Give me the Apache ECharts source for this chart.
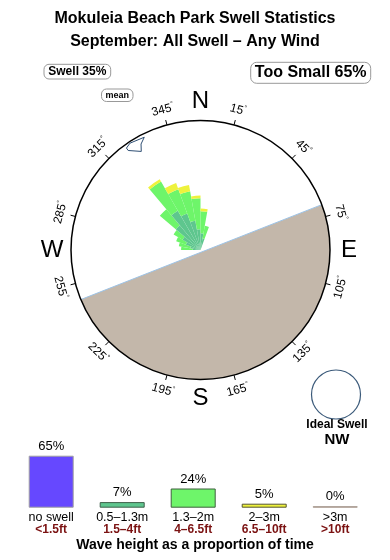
<!DOCTYPE html>
<html><head><meta charset="utf-8">
<script src="https://cdn.jsdelivr.net/npm/echarts@6/dist/echarts.min.js"></script>
<style>html,body{margin:0;padding:0;background:#fff}#c{width:390px;height:560px}</style>
</head><body><div id="c"></div>
<script>
// ---- data ----
const titleLines = ['Mokuleia Beach Park Swell Statistics', 'September: All Swell \u2013 Any Wind'];
const swellPct = 35;
const tooSmallPct = 65;
// rose bins (direction centre, degrees) and stacked lengths (% of rose radius)
const roseDirs   = [275, 285, 295, 305, 315, 325, 335, 345, 355, 5, 15];
const roseSmall  = [6, 8, 12, 16, 25, 35, 30, 23, 16, 13, 9];     // 0.5-1.3m
const roseMedium = [9, 9, 8, 8, 16, 26, 20, 23, 24, 17, 10];      // 1.3-2m
const roseLarge  = [0, 0, 0, 0, 0, 2, 5, 5, 2, 2, 0];             // 2-3m
const roseHuge   = [0, 0, 0, 0, 0, 0, 0, 0, 0, 0, 0];             // >3m
const binWidth = 10;
const meanDir = 329;
const landFrom = 69.5, landTo = 247.5;
const tickAngles = [15, 45, 75, 105, 135, 165, 195, 225, 255, 285, 315, 345];
const compassLabels = ['N', 'E', 'S', 'W'];
const compassAngles = [0, 90, 180, 270];
const sizeNames = ['no swell', '0.5\u20131.3m', '1.3\u20132m', '2\u20133m', '>3m'];
const sizeFeet  = ['<1.5ft', '1.5\u20134ft', '4\u20136.5ft', '6.5\u201310ft', '>10ft'];
const sizePct   = [65, 7, 24, 5, 0];
const idealSwell = 'NW';

// ---- styles ----
const FONT = "'Liberation Sans', Arial, Helvetica, sans-serif";
const sizeColors = ['#6648ff', '#5ec68e', '#6ef56a', '#eef23c', '#c2b2a6'];
const sizeBorders = ['#a0a0a0', '#3f5f4a', '#3f5f3f', '#555530', '#a89a90'];
const landColor = '#c3b7aa';
const R = 100;               // radius axis max
const CX = 200.5, CY = 250, RPX = 129.5;
const PXU = R / RPX;         // units per pixel

const chart = echarts.init(document.getElementById('c'), null, {renderer: 'canvas'});

const degRich = {
  v: {fontSize: 12, fontFamily: FONT, color: '#000'},
  d: {fontSize: 7, fontFamily: FONT, color: '#000', padding: [0, 0, 7, 0]}
};

// rose data table: [total, direction, small, medium, large, huge]
const roseTable = roseDirs.map((d, k) => [
  roseSmall[k] + roseMedium[k] + roseLarge[k] + roseHuge[k], d,
  roseSmall[k], roseMedium[k], roseLarge[k], roseHuge[k]
]);
const roseColors = [sizeColors[1], sizeColors[2], sizeColors[3], sizeColors[4]];

const option = {
  animation: false,
  backgroundColor: '#fff',
  polar: {center: [CX, CY], radius: RPX},
  angleAxis: {type: 'value', min: 0, max: 360, startAngle: 90, clockwise: true,
    axisLine: {show: false}, axisTick: {show: false}, axisLabel: {show: false}, splitLine: {show: false}},
  radiusAxis: {type: 'value', min: 0, max: R, axisLine: {show: false}, axisTick: {show: false},
    axisLabel: {show: false}, splitLine: {show: false}},
  grid: {left: 15.7, width: 355, top: 455.7, height: 52, containLabel: false},
  xAxis: {
    type: 'category', data: sizeNames,
    axisLine: {show: false}, axisTick: {show: false},
    axisLabel: {
      margin: 4, interval: 0,
      formatter: (v, i) => `{a|${sizeNames[i]}}\n{b|${sizeFeet[i]}}`,
      rich: {
        a: {fontSize: 12.5, fontFamily: FONT, color: '#000', lineHeight: 12},
        b: {fontSize: 12, fontWeight: 'bold', fontFamily: FONT, color: '#7b1212', lineHeight: 12}
      }
    }
  },
  yAxis: {type: 'value', min: 0, max: 65, show: false},
  series: [
    // land + outer circle
    {
      type: 'custom', coordinateSystem: 'polar', z: 1, silent: true,
      data: [[R, 0]],
      renderItem(params, api) {
        const pts = [];
        for (let a = landFrom; a <= landTo + 0.001; a += 1) pts.push(api.coord([R, a]));
        const last = pts[pts.length - 1];
        const c = api.coord([0, 0]);
        const e = api.coord([R, 0]);
        const rp = Math.hypot(e[0] - c[0], e[1] - c[1]);
        return {type: 'group', children: [
          {type: 'polygon', shape: {points: pts}, style: {fill: landColor, stroke: null}},
          {type: 'line', shape: {x1: pts[0][0], y1: pts[0][1], x2: last[0], y2: last[1]},
           style: {stroke: '#9dc3e6', lineWidth: 1}},
          {type: 'circle', shape: {cx: c[0], cy: c[1], r: rp}, style: {fill: null, stroke: '#000', lineWidth: 1.5}}
        ]};
      }
    },
    // rose wedges (stacked by wave height)
    {
      type: 'custom', coordinateSystem: 'polar', z: 3, silent: true,
      dimensions: ['radius', 'angle', 's', 'm', 'l', 'h'],
      encode: {radius: 0, angle: 1},
      data: roseTable,
      renderItem(params, api) {
        const dir = api.value(1);
        const c = api.coord([0, dir]);
        const half = binWidth * 0.5;
        const a0 = (dir - half - 90) * Math.PI / 180;
        const a1 = (dir + half - 90) * Math.PI / 180;
        const kids = [];
        let acc = 0;
        for (let j = 0; j < 4; j++) {
          const v = api.value(2 + j);
          if (!v) continue;
          const p0 = api.coord([acc, dir]);
          const p1 = api.coord([acc + v, dir]);
          const r0 = Math.hypot(p0[0] - c[0], p0[1] - c[1]);
          const r1 = Math.hypot(p1[0] - c[0], p1[1] - c[1]);
          kids.push({type: 'sector',
            shape: {cx: c[0], cy: c[1], r0, r: r1, startAngle: a0, endAngle: a1, clockwise: true},
            style: {fill: roseColors[j], stroke: null}});
          acc += v;
        }
        return {type: 'group', children: kids};
      }
    },
    // ticks + degree labels
    {
      type: 'custom', coordinateSystem: 'polar', z: 4, silent: true,
      data: tickAngles.map(a => [R, a]),
      renderItem(params, api) {
        const a = api.value(1);
        const p1 = api.coord([R, a]);
        const p2 = api.coord([R + 5 * PXU, a]);
        const pl = api.coord([R + 15.5 * PXU, a]);
        let d = a;
        if (a > 90 && a < 270) d = a - 180; else if (a >= 270) d = a - 360;
        return {type: 'group', children: [
          {type: 'line', shape: {x1: p1[0], y1: p1[1], x2: p2[0], y2: p2[1]}, style: {stroke: '#000', lineWidth: 1}},
          {type: 'text', x: pl[0], y: pl[1], rotation: -d * Math.PI / 180,
           style: {text: `{v|${tickAngles[params.dataIndex]}}{d|\u00b0}`, rich: degRich,
                   align: 'center', verticalAlign: 'middle'}}
        ]};
      }
    },
    // compass letters
    {
      type: 'custom', coordinateSystem: 'polar', z: 4, silent: true,
      data: compassAngles.map(a => [R, a]),
      renderItem(params, api) {
        const p = api.coord([R + 19 * PXU, api.value(1)]);
        return {type: 'text', x: p[0], y: p[1],
          style: {text: compassLabels[params.dataIndex], font: `24px ${FONT}`, fill: '#000',
                  align: 'center', verticalAlign: 'middle'}};
      }
    },
    // mean direction marker
    {
      type: 'custom', coordinateSystem: 'polar', z: 4, silent: true,
      data: [[R, meanDir]],
      renderItem(params, api) {
        const m = api.value(1);
        const offs = [[-1.5, -2.4], [-3.5, 4.5], [-8, 1.7], [-14.5, 0], [-6.5, -5], [-3.5, -5]];
        const pts = offs.map(o => api.coord([R + o[0] * PXU, m + o[1]]));
        return {type: 'polygon', shape: {points: pts},
          style: {fill: null, stroke: '#2f4f74', lineWidth: 1}};
      }
    },
    // size distribution bars
    {
      type: 'bar', barWidth: 45, barMinHeight: 1.5,
      data: sizePct.map((v, i) => ({value: v,
        itemStyle: {color: sizeColors[i], borderColor: sizeBorders[i], borderWidth: 1}})),
      label: {show: true, position: 'top', distance: 3, formatter: '{c}%',
              fontSize: 13, fontFamily: FONT, color: '#000'},
      silent: true
    }
  ],
  graphic: [
    {type: 'text', x: 195, y: 19, style: {text: titleLines[0], font: `bold 16px ${FONT}`, fill: '#000', align: 'center', verticalAlign: 'middle'}},
    {type: 'text', x: 195, y: 41.5, style: {text: titleLines[1], font: `bold 16px ${FONT}`, fill: '#000', align: 'center', verticalAlign: 'middle'}},
    {type: 'rect', shape: {x: 44, y: 64.3, width: 66.7, height: 14.7, r: 5}, style: {fill: '#fff', stroke: '#999', lineWidth: 1}},
    {type: 'text', x: 77.3, y: 72, style: {text: `Swell ${swellPct}%`, font: `bold 12px ${FONT}`, fill: '#000', align: 'center', verticalAlign: 'middle'}},
    {type: 'rect', shape: {x: 250.7, y: 62.3, width: 120, height: 21, r: 6}, style: {fill: '#fff', stroke: '#999', lineWidth: 1}},
    {type: 'text', x: 310.7, y: 73, style: {text: `Too Small ${tooSmallPct}%`, font: `bold 16px ${FONT}`, fill: '#000', align: 'center', verticalAlign: 'middle'}},
    {type: 'rect', shape: {x: 101.5, y: 89, width: 31.5, height: 12.5, r: 5}, style: {fill: '#fff', stroke: '#999', lineWidth: 1}},
    {type: 'text', x: 117.3, y: 95.5, style: {text: 'mean', font: `bold 9px ${FONT}`, fill: '#000', align: 'center', verticalAlign: 'middle'}},
    {type: 'circle', shape: {cx: 336, cy: 394.5, r: 24.5}, style: {fill: null, stroke: '#3b5a7a', lineWidth: 1.2}},
    {type: 'text', x: 337, y: 425, style: {text: 'Ideal Swell', font: `bold 12px ${FONT}`, fill: '#000', align: 'center', verticalAlign: 'middle'}},
    {type: 'text', x: 337, y: 439.5, style: {text: idealSwell, font: `bold 15px ${FONT}`, fill: '#000', align: 'center', verticalAlign: 'middle'}},
    {type: 'text', x: 195, y: 545.5, style: {text: 'Wave height as a proportion of time', font: `bold 14px ${FONT}`, fill: '#000', align: 'center', verticalAlign: 'middle'}}
  ]
};
chart.setOption(option);
</script>
</body></html>
